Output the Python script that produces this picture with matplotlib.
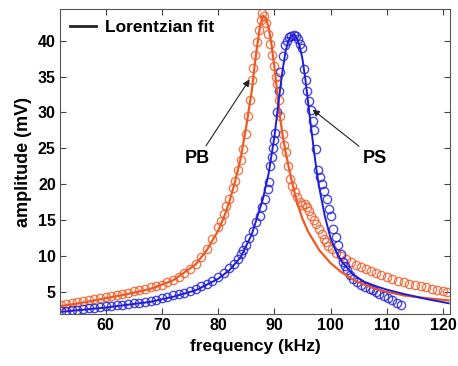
import matplotlib
matplotlib.use('Agg')
import matplotlib.pyplot as plt
from matplotlib.lines import Line2D

plt.rcParams['font.family'] = ['Liberation Sans', 'DejaVu Sans']
plt.rcParams['font.weight'] = 'bold'

# measured data, PB (orange)
pb_freq = [52, 53, 54, 55, 56, 57, 58, 59, 60, 61, 62, 63, 64, 65, 66, 67, 68, 69, 70,
           71, 72, 73, 74, 75, 76, 77, 78, 79, 80, 80.5, 81, 81.5, 82, 82.6, 83.0, 83.5,
           84.0, 84.4, 85.0, 85.3, 85.6, 86.0, 86.3, 86.6, 86.9, 87.2, 87.6, 87.9, 88.2,
           88.5, 88.9, 89.3, 89.6, 90.0, 90.3, 90.5, 90.8, 91.1, 91.5, 91.8, 92.0, 92.4,
           92.8, 93.2, 93.7, 94.1, 94.5, 95.0, 95.4, 95.8, 96.2, 96.6, 97.0, 97.5, 97.9,
           98.4, 98.8, 99.2, 99.6, 100.3, 101, 101.9, 102.8, 103.6, 104.5, 105.4, 106.3,
           107.2, 108, 109, 110, 111, 112, 113, 114, 115, 116, 117, 118, 119, 120, 120.7]
pb_amp = [3.1, 3.25, 3.4, 3.55, 3.7, 3.85, 4.0, 4.15, 4.3, 4.45, 4.6, 4.75, 4.9, 5.05, 5.2,
          5.4, 5.6, 5.8, 6.0, 6.3, 6.7, 7.1, 7.6, 8.2, 8.9, 9.8, 11.0, 12.4, 14.0, 14.9,
          15.8, 16.9, 18.0, 19.5, 20.5, 22.0, 23.4, 24.9, 27.0, 29.5, 31.8, 34.5, 36.2,
          38.0, 39.8, 41.5, 42.9, 43.8, 43.4, 42.5, 41.0, 39.5, 38.0, 36.5, 35.0, 34.0,
          31.8, 29.5, 27.0, 25.5, 24.5, 22.6, 20.7, 19.8, 18.9, 18.2, 17.5, 17.1, 17.2,
          16.8, 16.2, 15.6, 15.0, 14.4, 13.8, 13.0, 12.4, 11.9, 11.4, 10.9, 10.4, 10.0,
          9.6, 9.2, 8.8, 8.5, 8.2, 7.9, 7.6, 7.3, 7.0, 6.8, 6.55, 6.3, 6.1, 5.9, 5.75,
          5.6, 5.4, 5.2, 5.1, 5.0]

# measured data, PS (blue)
ps_freq = [52, 53, 54, 55, 56, 57, 58, 59, 60, 61, 62, 63, 64, 65, 66, 67, 68, 69, 70,
           71, 72, 73, 74, 75, 76, 77, 78, 79, 80, 81, 82, 82.8, 83.5, 84.0, 84.5, 85.0,
           85.5, 86.2, 86.8, 87.4, 87.9, 88.4, 88.8, 89.1, 89.3, 89.6, 89.8, 90.0, 90.2,
           90.5, 90.8, 91.1, 91.5, 91.9, 92.3, 92.6, 93.0, 93.45, 93.8, 94.2, 94.6, 94.9,
           95.3, 95.6, 95.9, 96.2, 96.5, 96.8, 97.0, 97.4, 97.7, 98.1, 98.5, 98.9, 99.3,
           99.7, 100.0, 100.5, 100.9, 101.3, 101.8, 102.2, 102.6, 103.0, 103.5, 104.0,
           104.7, 105.5, 106.2, 107.0, 107.5, 108.0, 108.7, 109.5, 110.2, 111.0, 111.8,
           112.5]
ps_amp = [2.3, 2.35, 2.4, 2.5, 2.6, 2.7, 2.8, 2.88, 2.95, 3.02, 3.1, 3.2, 3.3, 3.4, 3.5,
          3.62, 3.75, 3.92, 4.1, 4.3, 4.5, 4.7, 4.9, 5.15, 5.4, 5.75, 6.1, 6.5, 7.0, 7.6,
          8.3, 8.9, 9.6, 10.2, 10.8, 11.5, 12.5, 13.5, 14.7, 15.6, 16.8, 18.0, 19.3, 20.3,
          22.5, 23.8, 25.0, 26.1, 27.2, 30.0, 33.0, 35.7, 37.8, 39.4, 40.0, 40.5, 40.7,
          40.8, 40.6, 40.2, 39.6, 39.0, 36.0, 34.5, 33.0, 31.6, 30.4, 28.8, 27.5, 24.9,
          22.0, 21.0, 20.0, 19.0, 17.9, 16.6, 15.5, 13.75, 12.6, 11.5, 10.3, 9.2, 8.6,
          8.0, 7.4, 6.8, 6.4, 6.0, 5.7, 5.4, 5.2, 5.0, 4.7, 4.4, 4.1, 3.8, 3.5, 3.2]

# Lorentzian fit curves
pb_fit_freq = [52, 56, 60, 64, 68, 72, 76, 78, 80, 81, 82, 83, 84, 85, 86, 86.5, 87, 87.5,
               88, 88.5, 89, 89.5, 90, 90.5, 91, 91.5, 92, 93, 94, 95, 96, 98, 100, 102,
               104, 106, 108, 110, 113, 116, 121]
pb_fit_amp = [3.0, 3.5, 4.1, 4.7, 5.4, 6.6, 8.8, 10.8, 13.5, 15.3, 17.5, 20.3, 23.5, 28.0,
              33.0, 36.5, 39.5, 42.2, 43.5, 43.2, 41.8, 39.5, 36.5, 33.0, 29.5, 26.8, 24.5,
              20.8, 17.6, 15.2, 13.4, 10.8, 9.0, 7.7, 6.7, 6.0, 5.4, 5.0, 4.5, 4.2, 3.8]

ps_fit_freq = [52, 56, 60, 64, 68, 72, 76, 80, 82, 84, 86, 88, 89, 90, 91, 91.5, 92, 92.5,
               93, 93.5, 94, 94.5, 95, 95.5, 96, 96.5, 97, 97.5, 98, 99, 100, 101, 102, 104,
               106, 108, 110, 113, 117, 121]
ps_fit_amp = [2.2, 2.5, 2.8, 3.2, 3.6, 4.3, 5.2, 6.8, 8.0, 9.8, 13.0, 18.0, 21.5, 26.5,
              33.0, 36.0, 38.5, 40.0, 40.7, 40.8, 40.4, 39.3, 37.5, 34.8, 31.5, 28.2, 25.0,
              22.0, 19.5, 15.5, 12.5, 10.6, 9.2, 7.4, 6.4, 5.8, 5.3, 4.7, 4.0, 3.4]

orange = '#EE5A24'
blue = '#1E1ED8'

fig = plt.figure(figsize=(4.58, 3.66), dpi=100)
ax = fig.add_axes([0.131, 0.142, 0.851, 0.833])

ax.plot(pb_freq, pb_amp, 'o', markersize=6, markerfacecolor='none',
        markeredgecolor=orange, markeredgewidth=1.0, alpha=0.8)
ax.plot(ps_freq, ps_amp, 'o', markersize=6, markerfacecolor='none',
        markeredgecolor=blue, markeredgewidth=1.0, alpha=0.8)
ax.plot(pb_fit_freq, pb_fit_amp, '-', color=orange, linewidth=1.6)
ax.plot(ps_fit_freq, ps_fit_amp, '-', color=blue, linewidth=1.4)

ax.set_xlim(51.9, 121.2)
ax.set_ylim(1.9, 44.4)
ax.set_xticks([60, 70, 80, 90, 100, 110, 120])
ax.set_yticks([5, 10, 15, 20, 25, 30, 35, 40])
ax.tick_params(direction='in', top=True, right=True, length=4, width=0.8,
               labelsize=11.5, colors='#444444', labelcolor='black', pad=3)
for lab in ax.get_xticklabels() + ax.get_yticklabels():
    lab.set_fontweight('bold')
for sp in ax.spines.values():
    sp.set_color('#555555')
    sp.set_linewidth(0.8)

ax.set_xlabel('frequency (kHz)', fontsize=12.5, fontweight='bold', labelpad=4)
ax.set_ylabel('amplitude (mV)', fontsize=13, fontweight='bold', labelpad=4)

handle = Line2D([], [], color='#222222', linewidth=2)
ax.legend([handle], ['Lorentzian fit'], loc='upper left', frameon=False,
          prop={'weight': 'bold', 'size': 12.5}, handlelength=1.5,
          borderaxespad=0.2, handletextpad=0.5)

arrow = dict(arrowstyle='-|>', color='#222222', lw=0.8, mutation_scale=10,
             shrinkA=1, shrinkB=0)
ax.annotate('PB', xy=(85.6, 34.6), xytext=(76.4, 23.6), ha='center', va='center',
            fontsize=13, fontweight='bold', arrowprops=arrow)
ax.annotate('PS', xy=(96.8, 30.4), xytext=(107.8, 23.6), ha='center', va='center',
            fontsize=13, fontweight='bold', arrowprops=arrow)

fig.savefig('out.png', dpi=100)
